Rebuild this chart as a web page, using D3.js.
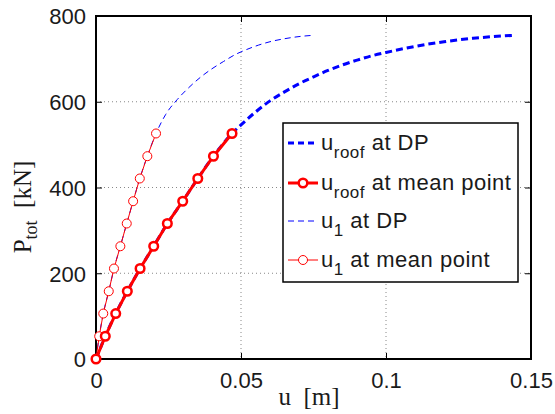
<!DOCTYPE html>
<html><head><meta charset="utf-8">
<script src="https://cdn.jsdelivr.net/npm/d3@7"></script>
<style>
body{margin:0;background:#fff;}
svg{display:block;}
</style></head>
<body>
<svg id="chart" width="555" height="414"></svg>
<script>
// ---- data ----
const xTicks = [0, 0.05, 0.1, 0.15];
const xTickLabels = ["0", "0.05", "0.1", "0.15"];
const yTicks = [0, 200, 400, 600, 800];
const yTickLabels = ["0", "200", "400", "600", "800"];

// u_roof at mean point (thick red, markers)
const uRoofMean = [0, 0.0032, 0.0068, 0.0108, 0.0152, 0.0199, 0.0246, 0.0299, 0.0351, 0.0405, 0.0469];
const pMean     = [0, 53, 106, 158, 211, 263, 316, 368, 421, 473, 526];
// u_1 at mean point (thin red, markers)
const u1Mean    = [0, 0.0011, 0.0025, 0.0044, 0.0062, 0.0084, 0.0106, 0.0128, 0.0151, 0.0177, 0.0207];

// u_roof at DP (thick blue dashed)
const uRoofDP = [0, 0.0032, 0.0068, 0.0108, 0.0152, 0.0199, 0.0246, 0.0299, 0.0351, 0.0405, 0.0469,
                 0.050, 0.055, 0.060, 0.065, 0.070, 0.075, 0.080, 0.085, 0.090, 0.095, 0.100, 0.110, 0.120, 0.130, 0.1439];
const pRoofDP = [0, 53, 106, 158, 211, 263, 316, 368, 421, 473, 526,
                 546, 576, 602, 623, 642, 658, 673, 686, 697, 707, 715, 729, 740, 748, 755];
// u_1 at DP (thin blue dashed)
const u1DP = [0, 0.0011, 0.0025, 0.0044, 0.0062, 0.0084, 0.0106, 0.0128, 0.0151, 0.0177, 0.0207,
              0.024, 0.028, 0.032, 0.036, 0.040, 0.044, 0.048, 0.052, 0.056, 0.060, 0.065, 0.070, 0.0749];
const p1DP = [0, 53, 106, 158, 211, 263, 316, 368, 421, 473, 526,
              570, 605, 633, 657, 677, 694, 710, 722, 732, 740, 747, 752, 755];

const legendLabels = [
  {main: "u", sub: "roof", rest: " at DP"},
  {main: "u", sub: "roof", rest: " at mean point"},
  {main: "u", sub: "1", rest: " at DP"},
  {main: "u", sub: "1", rest: " at mean point"}
];

// ---- layout ----
const svg = d3.select("#chart");
const L = 96, R = 531, T = 16, B = 359;
const x = d3.scaleLinear().domain([0, 0.15]).range([L, R]);
const y = d3.scaleLinear().domain([0, 800]).range([B, T]);
const sans = "'Liberation Sans', Arial, Helvetica, sans-serif";
const serif = "'Liberation Serif', 'Times New Roman', serif";
const txt = "#1a1a1a";

// grid
const grid = svg.append("g");
xTicks.slice(1, -1).forEach(v => {
  grid.append("line").attr("x1", x(v)).attr("x2", x(v)).attr("y1", T).attr("y2", B)
    .attr("stroke", "#888").attr("stroke-width", 1).attr("stroke-dasharray", "1,3");
});
yTicks.slice(1, -1).forEach(v => {
  grid.append("line").attr("x1", L).attr("x2", R).attr("y1", y(v)).attr("y2", y(v))
    .attr("stroke", "#888").attr("stroke-width", 1).attr("stroke-dasharray", "1,3");
});

// axes
function styleAxis(g, labels) {
  g.select(".domain").remove();
  g.selectAll(".tick line").attr("stroke", "#000").attr("stroke-width", 1);
  g.selectAll(".tick text").attr("fill", txt).style("font-family", sans).style("font-size", "22px");
  if (!labels) g.selectAll(".tick text").remove();
}
const xb = svg.append("g").attr("transform", `translate(0,${B})`)
  .call(d3.axisBottom(x).tickValues(xTicks).tickSizeInner(-6).tickSizeOuter(0).tickPadding(13)
    .tickFormat((d, i) => xTickLabels[i]));
styleAxis(xb, true);
xb.selectAll(".tick text").attr("dy", "0.71em");
const xt = svg.append("g").attr("transform", `translate(0,${T})`)
  .call(d3.axisTop(x).tickValues(xTicks).tickSizeInner(-6).tickSizeOuter(0));
styleAxis(xt, false);
const yl = svg.append("g").attr("transform", `translate(${L},0)`)
  .call(d3.axisLeft(y).tickValues(yTicks).tickSizeInner(-6).tickSizeOuter(0).tickPadding(10)
    .tickFormat((d, i) => yTickLabels[i]));
styleAxis(yl, true);
yl.selectAll(".tick text").attr("dy", "0.36em");
const yr = svg.append("g").attr("transform", `translate(${R},0)`)
  .call(d3.axisRight(y).tickValues(yTicks).tickSizeInner(-6).tickSizeOuter(0));
styleAxis(yr, false);

// box
svg.append("rect").attr("x", L).attr("y", T).attr("width", R - L).attr("height", B - T)
  .attr("fill", "none").attr("stroke", "#000").attr("stroke-width", 2);

// series
const clip = svg.append("g");
const lineMono = d3.line().x(d => x(d[0])).y(d => y(d[1])).curve(d3.curveMonotoneX);
const lineLin = d3.line().x(d => x(d[0])).y(d => y(d[1]));

const roofDP = d3.zip(uRoofDP, pRoofDP);
const oneDP = d3.zip(u1DP, p1DP);
const roofMean = d3.zip(uRoofMean, pMean);
const oneMean = d3.zip(u1Mean, pMean);

clip.append("path").attr("d", lineMono(roofDP)).attr("fill", "none")
  .attr("stroke", "#0000ff").attr("stroke-width", 3).attr("stroke-dasharray", "7,4");
clip.append("path").attr("d", lineMono(oneDP)).attr("fill", "none")
  .attr("stroke", "#0000ff").attr("stroke-width", 1).attr("stroke-dasharray", "6,4");

clip.append("path").attr("d", lineLin(oneMean)).attr("fill", "none")
  .attr("stroke", "#ff0000").attr("stroke-width", 1);
clip.selectAll("circle.m1").data(oneMean).enter().append("circle").attr("class", "m1")
  .attr("cx", d => x(d[0])).attr("cy", d => y(d[1])).attr("r", 4.5)
  .attr("fill", "#fff").attr("stroke", "#ff0000").attr("stroke-width", 1);

clip.append("path").attr("d", lineLin(roofMean)).attr("fill", "none")
  .attr("stroke", "#ff0000").attr("stroke-width", 3);
clip.selectAll("circle.m2").data(roofMean).enter().append("circle").attr("class", "m2")
  .attr("cx", d => x(d[0])).attr("cy", d => y(d[1])).attr("r", 4.3)
  .attr("fill", "#fff").attr("stroke", "#ff0000").attr("stroke-width", 2.5);

// axis labels
svg.append("text").attr("x", 309).attr("y", 405).attr("text-anchor", "middle")
  .style("font-family", serif).style("font-size", "25px").attr("fill", txt)
  .attr("xml:space", "preserve").text("u  [m]");

const ylab = svg.append("text").attr("transform", "translate(31,207) rotate(-90)")
  .attr("text-anchor", "middle").style("font-family", serif).style("font-size", "25px").attr("fill", txt)
  .attr("xml:space", "preserve");
ylab.append("tspan").text("P");
ylab.append("tspan").attr("dy", 6).style("font-size", "18px").text("tot");
ylab.append("tspan").attr("dy", -6).text("  [kN]");

// legend
const lg = svg.append("g");
lg.append("rect").attr("x", 283).attr("y", 123).attr("width", 235).attr("height", 159)
  .attr("fill", "#fff").attr("stroke", "#000").attr("stroke-width", 1.5);
const rowsY = [143, 183, 221, 260];
const styles = [
  {w: 3, dash: "6,4", col: "#0000ff", marker: null},
  {w: 3, dash: null, col: "#ff0000", marker: {r: 4.3, sw: 2.5}},
  {w: 1, dash: "6,4", col: "#0000ff", marker: null},
  {w: 1, dash: null, col: "#ff0000", marker: {r: 4.5, sw: 1}}
];
legendLabels.forEach((lab, i) => {
  const yy = rowsY[i], s = styles[i];
  const ln = lg.append("line").attr("x1", 288).attr("x2", 318).attr("y1", yy).attr("y2", yy)
    .attr("stroke", s.col).attr("stroke-width", s.w);
  if (s.dash) ln.attr("stroke-dasharray", s.dash);
  if (s.marker) lg.append("circle").attr("cx", 303).attr("cy", yy).attr("r", s.marker.r)
    .attr("fill", "#fff").attr("stroke", s.col).attr("stroke-width", s.marker.sw);
  const t = lg.append("text").attr("x", 321).attr("y", yy + 7)
    .style("font-family", sans).style("font-size", "22px").attr("fill", txt)
    .attr("xml:space", "preserve").style("letter-spacing", "0.5px");
  t.append("tspan").text(lab.main);
  t.append("tspan").attr("dy", 8).style("font-size", "17px").text(lab.sub);
  t.append("tspan").attr("dy", -8).text(lab.rest);
});
</script>
</body></html>
